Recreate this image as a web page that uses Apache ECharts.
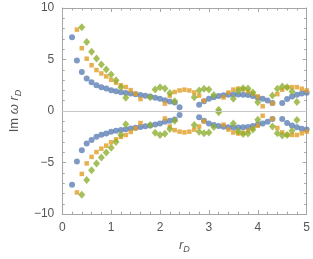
<!DOCTYPE html>
<html><head><meta charset="utf-8">
<script src="https://cdn.jsdelivr.net/npm/echarts@6/dist/echarts.min.js"></script>
<style>html,body{margin:0;padding:0;background:#fff}#c{width:313px;height:259px}</style>
</head><body><div id="c"></div>
<script>
const xs = [0.2,0.3,0.4,0.5,0.6,0.7,0.8,0.9,1.0,1.1,1.2,1.3,1.4,1.5,1.6,1.7,1.8,1.9,2.0,2.1,2.2,2.3,2.4,2.5,2.6,2.7,2.8,2.9,3.0,3.1,3.2,3.3,3.4,3.5,3.6,3.7,3.8,3.9,4.0,4.1,4.2,4.3,4.4,4.5,4.6,4.7,4.8,4.9,5.0];

const blueUpper = [7.15,4.9,3.8,3.16,2.8,2.5,2.3,2.18,2.02,1.92,1.83,1.76,1.7,1.63,1.55,1.48,1.4,1.3,1.2,1.05,0.93,0.82,0.38,null,null,null,0.6,0.95,1.2,1.35,1.45,1.53,1.58,1.6,1.6,1.58,1.55,1.45,1.3,1.2,1.03,0.77,null,0.77,1.16,1.4,1.58,1.71,1.78];
const blueLower = [-7.15,-4.9,-3.8,-3.16,-2.8,-2.5,-2.3,-2.18,-2.02,-1.92,-1.83,-1.76,-1.7,-1.63,-1.55,-1.48,-1.4,-1.3,-1.2,-1.05,-0.93,-0.82,-0.38,null,null,null,-0.6,-0.95,-1.2,-1.35,-1.45,-1.53,-1.58,-1.6,-1.6,-1.58,-1.55,-1.45,-1.3,-1.2,-1.03,-0.77,null,-0.77,-1.16,-1.4,-1.58,-1.71,-1.78];

const orangeUpper = [null,7.9,6.1,5.08,4.45,3.98,3.65,3.36,3.03,2.75,2.5,2.33,2.03,1.68,1.16,null,null,null,null,0.72,1.5,1.85,2.0,2.07,2.0,1.8,1.5,1.0,null,null,null,1.32,1.8,2.08,2.18,2.12,1.92,1.7,1.42,0.46,null,0.75,1.64,2.07,2.3,2.32,2.32,2.16,2.0];
const orangeLower = [null,-7.9,-6.1,-5.08,-4.45,-3.98,-3.65,-3.36,-3.03,-2.75,-2.5,-2.33,-2.03,-1.68,-1.16,null,null,null,null,-0.72,-1.5,-1.85,-2.0,-2.07,-2.0,-1.8,-1.5,-1.0,null,null,null,-1.32,-1.8,-2.08,-2.18,-2.12,-1.92,-1.7,-1.42,-0.46,null,-0.75,-1.64,-2.07,-2.3,-2.32,-2.32,-2.16,-2.0];

const greenUpper = [null,null,8.12,6.7,5.75,5.09,4.51,4.03,3.55,3.0,2.3,1.28,null,null,null,null,1.35,2.1,2.32,2.2,1.75,0.95,null,null,null,1.35,2.0,2.16,2.08,1.55,0.12,null,null,1.2,1.97,2.22,2.19,1.8,0.85,null,null,1.5,2.16,2.38,2.32,1.9,0.88,null,null];
const greenLower = [null,null,-8.12,-6.7,-5.75,-5.09,-4.51,-4.03,-3.55,-3.0,-2.3,-1.28,null,null,null,null,-1.35,-2.1,-2.32,-2.2,-1.75,-0.95,null,null,null,-1.35,-2.0,-2.16,-2.08,-1.55,-0.12,null,null,-1.2,-1.97,-2.22,-2.19,-1.8,-0.85,null,null,-1.5,-2.16,-2.38,-2.32,-1.9,-0.88,null,null];

const xTicks = [0,1,2,3,4,5];
const yTicks = [-10,-5,0,5,10];

function pairs(a, b) {
  const out = [];
  [a, b].forEach(arr => arr.forEach((v, i) => { if (v !== null) out.push([xs[i], v]); }));
  return out;
}

const frame = '#a6a6a6';
const labelColor = '#555';
const font = 'Liberation Sans';

function axisCommon(show) {
  return {
    axisLine: { show: true, onZero: false, lineStyle: { color: frame, width: 1 } },
    axisTick: { show: true, inside: true, length: 4, lineStyle: { color: frame } },
    minorTick: { show: true, splitNumber: 5, length: 2.5, lineStyle: { color: frame } },
    splitLine: { show: false },
    axisLabel: { show: show, color: labelColor, fontSize: 12, fontFamily: font,
      formatter: v => String(v).replace('-', '\u2212') }
  };
}

const chart = echarts.init(document.getElementById('c'), null, { renderer: 'canvas' });
chart.setOption({
  animation: false,
  grid: { left: 48, right: 6, top: 8, bottom: 43 },
  xAxis: [
    Object.assign({ type: 'value', min: xTicks[0], max: xTicks[xTicks.length-1], interval: 1, position: 'bottom',
      name: '{i|r}{s|D}', nameLocation: 'middle', nameGap: 20,
      nameTextStyle: { rich: {
        i: { fontSize: 13, fontStyle: 'italic', color: labelColor, fontFamily: font },
        s: { fontSize: 9, fontStyle: 'italic', color: labelColor, fontFamily: font, verticalAlign: 'bottom', padding: [8,0,0,0] } } }
    }, axisCommon(true)),
    Object.assign({ type: 'value', min: 0, max: 5, interval: 1, position: 'top' }, axisCommon(false))
  ],
  yAxis: [
    Object.assign({ type: 'value', min: yTicks[0], max: yTicks[yTicks.length-1], interval: 5, position: 'left',
      name: '{n|Im }{i|ω r}{s|D}', nameLocation: 'middle', nameGap: 29,
      nameTextStyle: { rich: {
        n: { fontSize: 13, color: labelColor, fontFamily: font },
        i: { fontSize: 13, fontStyle: 'italic', color: labelColor, fontFamily: font },
        s: { fontSize: 9, fontStyle: 'italic', color: labelColor, fontFamily: font, verticalAlign: 'bottom', padding: [8,0,0,0] } } }
    }, axisCommon(true)),
    Object.assign({ type: 'value', min: -10, max: 10, interval: 5, position: 'right' }, axisCommon(false))
  ],
  series: [
    { type: 'scatter', name: 'blue', data: pairs(blueUpper, blueLower), symbol: 'circle', symbolSize: 6,
      itemStyle: { color: '#5E81B5' },
      markLine: { silent: true, symbol: 'none', label: { show: false },
        lineStyle: { color: '#c8c8c8', width: 1, type: 'solid' }, data: [{ yAxis: 0 }] } },
    { type: 'scatter', name: 'orange', data: pairs(orangeUpper, orangeLower), symbol: 'rect', symbolSize: 4.5,
      itemStyle: { color: '#E19C24' } },
    { type: 'scatter', name: 'green', data: pairs(greenUpper, greenLower), symbol: 'diamond', symbolSize: [7, 8],
      itemStyle: { color: '#8FB032' } }
  ]
});
</script></body></html>
